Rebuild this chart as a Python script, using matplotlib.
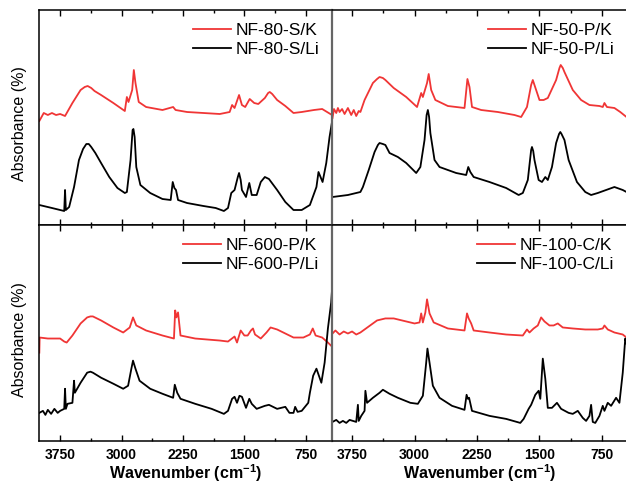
import matplotlib.pyplot as plt
from matplotlib.ticker import MultipleLocator

plt.rcParams['font.family'] = ['Liberation Sans', 'DejaVu Sans']
plt.rcParams['mathtext.fontset'] = 'custom'
plt.rcParams['mathtext.rm'] = 'Liberation Sans'
plt.rcParams['mathtext.bf'] = 'Liberation Sans:bold'

# --- data (wavenumber cm-1, absorbance a.u.) ---
# NF-80-S
s80_k_wn = [4004, 3950, 3900, 3850, 3800, 3750, 3690, 3600, 3500, 3450, 3414, 3370, 3330, 3250, 3100,
            2960, 2935, 2915, 2870, 2850, 2830, 2790, 2700, 2500, 2370, 2340, 2200, 2000, 1800, 1680,
            1650, 1620, 1565, 1530, 1490, 1435, 1380, 1330, 1250, 1210, 1190, 1160, 1100, 1000, 900,
            800, 650, 550, 470, 430]
s80_k_ab = [104, 112, 110, 112, 110, 111, 109, 122, 135, 138, 139, 137, 134, 130, 122,
            114, 128, 123, 135, 155, 142, 123, 118, 115, 118, 115, 113, 112, 111, 113,
            120, 117, 130, 120, 118, 126, 122, 121, 127, 132, 133, 131, 125, 119, 112,
            113, 115, 116, 112, 110]
s80_li_wn = [4004, 3850, 3700, 3690, 3680, 3640, 3580, 3520, 3470, 3430, 3400, 3370, 3320, 3250, 3150,
             3050, 2960, 2935, 2890, 2865, 2855, 2840, 2820, 2770, 2650, 2500, 2400, 2375, 2355, 2335,
             2310, 2200, 2000, 1850, 1750, 1700, 1660, 1620, 1580, 1565, 1545, 1530, 1480, 1440, 1410,
             1350, 1300, 1250, 1200, 1100, 1000, 900, 800, 700, 620, 595, 545, 500, 460, 432]
s80_li_ab = [20, 17, 14, 35, 15, 18, 38, 65, 76, 81, 81, 78, 72, 62, 48,
             37, 32, 33, 65, 95, 96, 88, 58, 40, 32, 26, 25, 43, 37, 35,
             25, 22, 19, 17, 14, 17, 32, 35, 48, 52, 45, 35, 28, 42, 30,
             30, 43, 48, 46, 35, 23, 15, 15, 20, 38, 53, 43, 62, 88, 102]

# NF-50-P
p50_k_wn = [3985, 3967, 3940, 3920, 3900, 3870, 3840, 3800, 3760, 3730, 3700, 3670, 3650, 3600, 3500,
            3450, 3420, 3380, 3350, 3250, 3100, 2970, 2920, 2900, 2850, 2830, 2800, 2750, 2600, 2400,
            2365, 2340, 2310, 2200, 2000, 1800, 1720, 1650, 1600, 1580, 1540, 1500, 1450, 1400, 1300,
            1260, 1245, 1220, 1200, 1100, 1000, 900, 780, 740, 720, 690, 600, 530, 455]
p50_k_ab = [107, 116, 112, 117, 113, 116, 111, 117, 110, 115, 109, 114, 113, 125, 142,
            146, 148, 147, 145, 137, 128, 118, 132, 128, 142, 151, 135, 125, 119, 117,
            146, 138, 118, 115, 113, 110, 108, 118, 140, 145, 135, 125, 125, 127, 145,
            157, 160, 157, 153, 135, 125, 120, 119, 118, 122, 118, 117, 113, 108]
p50_li_wn = [3985, 3800, 3700, 3650, 3620, 3550, 3480, 3440, 3420, 3380, 3350, 3300, 3200, 3100, 2980,
             2930, 2880, 2855, 2840, 2825, 2810, 2760, 2700, 2500, 2380, 2355, 2330, 2290, 2100, 1900,
             1750, 1700, 1640, 1600, 1590, 1575, 1560, 1510, 1470, 1430, 1400, 1350, 1300, 1265, 1250,
             1235, 1200, 1150, 1050, 950, 880, 800, 700, 600, 500, 455]
p50_li_ab = [28, 30, 32, 33, 38, 55, 73, 80, 82, 81, 80, 72, 68, 62, 52,
             58, 85, 110, 115, 108, 92, 65, 58, 52, 50, 58, 53, 48, 43, 37,
             30, 32, 45, 75, 78, 74, 65, 45, 43, 48, 45, 58, 82, 91, 93,
             91, 85, 65, 43, 33, 30, 32, 35, 38, 35, 33]

# NF-600-P
p600_k_wn = [4004, 4000, 3900, 3750, 3700, 3670, 3600, 3500, 3420, 3380, 3350, 3250, 3100, 2980, 2900,
             2860, 2820, 2700, 2500, 2360, 2345, 2330, 2310, 2280, 2100, 1800, 1700, 1620, 1590, 1545,
             1500, 1460, 1420, 1395, 1370, 1300, 1230, 1180, 1100, 1000, 900, 780, 700, 665, 630,
             550, 480, 430]
p600_k_ab = [88, 103, 102, 102, 99, 98, 105, 117, 123, 124, 124, 120, 113, 108, 113,
             123, 115, 110, 105, 102, 130, 123, 128, 105, 102, 100, 99, 104, 98, 110,
             105, 105, 110, 112, 106, 102, 108, 113, 111, 107, 103, 103, 106, 112, 105,
             103, 98, 94]
p600_li_wn = [4004, 3960, 3930, 3900, 3860, 3820, 3780, 3750, 3700, 3690, 3680, 3660, 3600, 3580, 3570,
              3500, 3420, 3380, 3350, 3250, 3100, 2980, 2920, 2880, 2860, 2830, 2780, 2650, 2500, 2370,
              2350, 2320, 2280, 2100, 1900, 1750, 1700, 1650, 1620, 1590, 1560, 1530, 1480, 1440, 1410,
              1350, 1250, 1200, 1100, 1000, 950, 900, 880, 850, 800, 720, 700, 660, 620,
              560, 520, 480, 440, 430]
p600_li_ab = [28, 30, 26, 31, 27, 32, 28, 30, 32, 52, 32, 37, 38, 60, 48,
              58, 68, 69, 68, 63, 57, 52, 55, 72, 80, 72, 60, 52, 47, 43,
              56, 48, 42, 37, 32, 27, 30, 42, 44, 38, 45, 44, 33, 42, 37,
              32, 35, 36, 32, 34, 28, 28, 34, 29, 30, 38, 48, 65, 72,
              58, 78, 112, 138, 150]

# NF-100-C
c100_k_wn = [3985, 3950, 3900, 3850, 3800, 3750, 3700, 3650, 3550, 3450, 3350, 3250, 3100, 3000, 2940,
             2920, 2900, 2870, 2850, 2820, 2770, 2600, 2400, 2370, 2350, 2320, 2290, 2100, 1900, 1700,
             1650, 1620, 1570, 1520, 1480, 1440, 1380, 1330, 1280, 1220, 1100, 950, 800, 740, 720,
             680, 600, 500, 455]
c100_k_ab = [107, 110, 106, 109, 107, 109, 106, 108, 114, 120, 122, 122, 119, 117, 118,
             127, 118, 128, 141, 127, 118, 112, 110, 127, 122, 117, 110, 108, 106, 105,
             111, 108, 112, 115, 123, 119, 115, 115, 117, 113, 112, 111, 111, 112, 115,
             111, 108, 106, 103]
c100_li_wn = [3985, 3940, 3900, 3860, 3820, 3780, 3700, 3680, 3670, 3640, 3600, 3590, 3570, 3500, 3420,
              3380, 3300, 3200, 3050, 2960, 2900, 2860, 2845, 2820, 2780, 2700, 2550, 2400, 2375, 2360,
              2345, 2310, 2100, 1900, 1730, 1690, 1630, 1600, 1550, 1510, 1490, 1460, 1430, 1400, 1350,
              1290, 1240, 1150, 1100, 1040, 980, 940, 900, 880, 860, 830, 780, 740, 720,
              680, 640, 580, 540, 500, 470, 455]
c100_li_ab = [19, 21, 18, 20, 18, 21, 19, 36, 20, 25, 30, 50, 38, 43, 48,
              51, 47, 43, 38, 37, 45, 78, 92, 78, 55, 43, 35, 31, 46, 42,
              43, 30, 25, 22, 18, 22, 32, 36, 46, 50, 42, 82, 62, 33, 33,
              38, 32, 28, 27, 30, 23, 20, 25, 36, 19, 18, 25, 35, 30,
              38, 35, 43, 38, 68, 102, 97]

panels = [
    ('NF-80-S', s80_k_wn, s80_k_ab, s80_li_wn, s80_li_ab),
    ('NF-50-P', p50_k_wn, p50_k_ab, p50_li_wn, p50_li_ab),
    ('NF-600-P', p600_k_wn, p600_k_ab, p600_li_wn, p600_li_ab),
    ('NF-100-C', c100_k_wn, c100_k_ab, c100_li_wn, c100_li_ab),
]

W, H = 626, 486
fig = plt.figure(figsize=(W / 100, H / 100), dpi=100)

# panel boxes in pixels: (left, top, right, bottom)
boxes = [(39, 10, 332, 225), (332, 10, 627, 225),
         (39, 225, 332, 441), (332, 225, 627, 441)]
xlims = [(4008, 430), (3991, 449), (4008, 430), (3991, 449)]

for i, (name, kwn, kab, lwn, lab) in enumerate(panels):
    l, t, r, b = boxes[i]
    ax = fig.add_axes([l / W, (H - b) / H, (r - l) / W, (b - t) / H])
    ax.plot(kwn, kab, color='#f03535', lw=1.3, label=name + '/K')
    ax.plot(lwn, lab, color='black', lw=1.3, label=name + '/Li')
    ax.set_xlim(*xlims[i])
    ax.set_ylim(0, 215)
    ax.set_yticks([])
    ax.xaxis.set_major_locator(MultipleLocator(750))
    ax.xaxis.set_minor_locator(MultipleLocator(375))
    ax.tick_params(axis='x', which='both', direction='in', top=True, bottom=True)
    ax.tick_params(axis='x', which='major', length=4, width=1)
    ax.tick_params(axis='x', which='minor', length=2.5, width=1)
    for sp in ax.spines.values():
        sp.set_linewidth(1.1)
    if i % 2 == 1:
        ax.spines['left'].set_color('#666666')
        ax.spines['left'].set_linewidth(1.6)
    if i < 2:
        ax.tick_params(axis='x', labelbottom=False)
    else:
        ax.tick_params(axis='x', labelsize=10, pad=5)
        for lbl in ax.get_xticklabels():
            lbl.set_fontweight('bold')
        ax.set_xlabel(r'Wavenumber (cm$^{\mathbf{-1}}$)', fontsize=11.5,
                      fontweight='bold', labelpad=0)
    if i % 2 == 0:
        ax.set_ylabel('Absorbance (%)', fontsize=11.5)
        ax.yaxis.set_label_coords(-0.04, 0.47)
    ax.legend(loc='upper right', frameon=False, fontsize=12.5,
              handlelength=2.2, handletextpad=0.25, labelspacing=0.2,
              borderaxespad=0.45, borderpad=0.3)

fig.savefig('out.png', dpi=100)
